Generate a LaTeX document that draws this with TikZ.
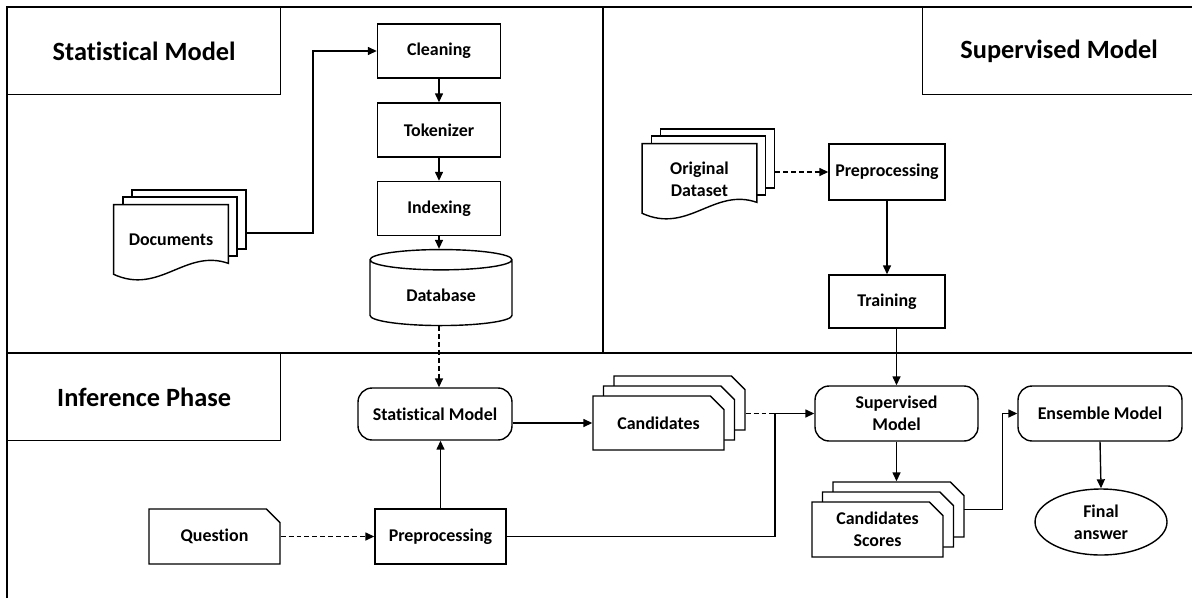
\documentclass[tikz,border=0pt]{standalone}
\usepackage{fontspec}
\setmainfont{Carlito}[Ligatures=NoCommon]
\usetikzlibrary{shapes.geometric, shapes.misc, arrows.meta, positioning, calc, shadows, backgrounds}

\begin{document}
\begin{tikzpicture}[
    x=0.02cm, y=-0.02cm,
    font=\bfseries\fontsize{10.2}{12.5}\selectfont,
    box/.style={draw, line width=0.8pt, minimum width=2.46cm, minimum height=1.08cm, align=center, inner sep=2pt},
    rbox/.style={box, rounded corners=8pt},
    page/.style={draw, fill=white, line width=0.8pt, minimum width=2.28cm, minimum height=1.18cm},
    doc/.style={inner sep=0pt, minimum width=2.28cm, minimum height=1.4cm, align=center},
    card/.style={box, fill=white, chamfered rectangle, chamfered rectangle corners=north east, chamfered rectangle xsep=0.16cm},
    stack/.style={card,
        copy shadow={shadow xshift=0.42cm, shadow yshift=0.4cm, draw=black, fill=white, line width=0.8pt},
        copy shadow={shadow xshift=0.21cm, shadow yshift=0.2cm, draw=black, fill=white, line width=0.8pt}},
    title/.style={draw, line width=0.8pt, font=\bfseries\fontsize{15}{18}\selectfont, minimum width=5.46cm, minimum height=1.74cm, anchor=north west},
    frame/.style={line width=1pt},
    arr/.style={-{Triangle[length=1.8mm, width=1.6mm]}, line width=0.8pt},
    darr/.style={arr, dash pattern=on 2.8pt off 1.7pt},
    dline/.style={line width=0.8pt, dash pattern=on 2.8pt off 1.7pt},
]
\useasboundingbox (0,0) rectangle (1192,598);

% Frame
\draw[frame] (7,598) -- (7,7) -- (1196,7);
\draw[frame] (7,353) -- (1196,353);
\draw[frame] (603,7) -- (603,353);
\node[title] (tstat) at (7,7) {Statistical Model};
\node[title] (tsup) at (922,7) {Supervised Model};
\node[title] (tinf) at (7,353) {Inference Phase};

% Statistical Model
\node[box] (cln) at (439,51) {Cleaning};
\node[box] (tok) at (439,130) {Tokenizer};
\node[box] (idx) at (439,208.5) {Indexing};
\node[draw, cylinder, shape border rotate=90, aspect=0.25, line width=0.8pt, minimum width=2.84cm, minimum height=1.52cm] (db) at (441,295) {Database};
\node[doc] (docs) at (171,240) {Documents};
\begin{pgfonlayer}{background}
  \node[page] (docsb) at ([shift={(0.36cm,0.41cm)}]docs.center) {};
  \node[page] (docsm) at ([shift={(0.18cm,0.27cm)}]docs.center) {};
  \draw[line width=0.8pt, fill=white] (docs.north west) -- (docs.north east) -- ([yshift=0.24cm]docs.south east)
    .. controls ([xshift=-0.86cm, yshift=0.54cm]docs.south east) and ([xshift=0.92cm, yshift=-0.4cm]docs.south west) .. ([yshift=0.02cm]docs.south west) -- cycle;
\end{pgfonlayer}

% Supervised Model
\node[doc] (ds) at (699.5,179) {Original\\Dataset};
\begin{pgfonlayer}{background}
  \node[page] (dsb) at ([shift={(0.36cm,0.41cm)}]ds.center) {};
  \node[page] (dsm) at ([shift={(0.18cm,0.27cm)}]ds.center) {};
  \draw[line width=0.8pt, fill=white] (ds.north west) -- (ds.north east) -- ([yshift=0.24cm]ds.south east)
    .. controls ([xshift=-0.86cm, yshift=0.54cm]ds.south east) and ([xshift=0.92cm, yshift=-0.4cm]ds.south west) .. ([yshift=0.02cm]ds.south west) -- cycle;
\end{pgfonlayer}
\node[box, minimum width=2.32cm, minimum height=1.12cm] (pre1) at (887,172) {Preprocessing};
\node[box, minimum width=2.32cm, minimum height=1.06cm] (trn) at (887,301.5) {Training};

% Inference Phase
\node[rbox, minimum width=3.08cm, minimum height=1.04cm] (stat) at (435,414) {Statistical Model};
\node[stack, minimum width=2.62cm, minimum height=1.08cm] (cand) at (658.5,423) {Candidates};
\node[rbox, minimum width=3.26cm, minimum height=1.1cm] (sm) at (896.5,413.5) {Supervised\\Model};
\node[rbox, minimum width=3.28cm, minimum height=1.1cm] (ens) at (1100,413.5) {Ensemble Model};
\node[draw, ellipse, line width=0.8pt, minimum width=2.64cm, minimum height=1.32cm, align=center, inner sep=0pt] (fin) at (1101,522) {Final\\answer};
\node[stack, minimum width=2.62cm, minimum height=1.1cm] (scr) at (877.5,529.5) {Candidates\\Scores};
\node[card, minimum width=2.62cm, minimum height=1.1cm] (q) at (214.5,536.5) {Question};
\node[box, minimum width=2.62cm, minimum height=1.1cm] (pre2) at (440.5,536.5) {Preprocessing};
\coordinate (jn) at (775,413.5);
\coordinate (scrtop) at ([yshift=0.4cm]scr.north);

% Connections
\draw[arr] ([yshift=-0.27cm]docsb.east) -| ([xshift=-1.28cm]cln.west) -- (cln.west);
\draw[arr] (cln.south) -- (tok.north);
\draw[arr] (tok.south) -- (idx.north);
\draw[arr] (idx.south) -- (idx.south |- db.north);
\draw[darr] (idx.south |- db.south) -- (idx.south |- stat.north);
\draw[darr] (dsb.east |- pre1.west) -- (pre1.west);
\draw[arr] (pre1.south) -- (trn.north);
\draw[arr] (trn.south -| sm.north) -- (sm.north);
\draw[arr] (stat.east |- cand.west) -- (cand.west);
\draw[dline] ([xshift=0.42cm]cand.east |- jn) -- (jn);
\draw[arr] (pre2.east) -| (jn) -- (sm.west);
\draw[darr] (q.east) -- (pre2.west);
\draw[arr] (pre2.north) -- (pre2.north |- stat.south);
\draw[arr] (sm.south) -- (sm.south |- scrtop);
\draw[arr] ([shift={(0.4cm,0.4cm)}]scr.east) -| ([xshift=-0.3cm]ens.west) -- (ens.west);
\draw[arr] (ens.south) -- (fin.north);
\end{tikzpicture}
\end{document}
